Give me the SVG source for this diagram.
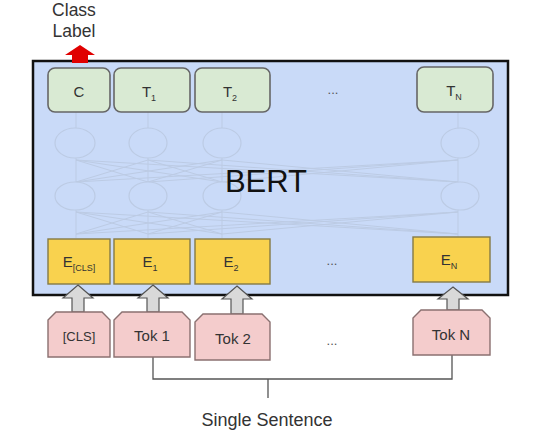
<svg xmlns="http://www.w3.org/2000/svg" width="535" height="436" viewBox="0 0 535 436">
<defs>
<style>
text{font-family:"Liberation Sans",Arial,sans-serif;fill:#333;}
.lbl{font-size:15px;text-anchor:middle;}
.sub{font-size:9px;}
.tbox{fill:#d9ead3;stroke:#666;stroke-width:1.6;}
.ebox{fill:#f9d24e;stroke:#857a45;stroke-width:1.4;}
.tok{fill:#f4cccc;stroke:#8a7070;stroke-width:1.4;}
.garrow{fill:#d9d9d9;stroke:#555;stroke-width:1.2;}
.net{stroke:#bccbe4;stroke-width:1;fill:none;}
.cell{fill:#c9daf8;stroke:#bccbe4;stroke-width:1.2;}
.dots{font-size:13px;text-anchor:middle;fill:#555;}
</style>
</defs>
<rect width="535" height="436" fill="#fff"/>
<g id="bert">
<rect x="33" y="61" width="475" height="234" fill="#c9daf8" stroke="#111" stroke-width="2.5"/>
<g id="network">
<line class="net" x1="76" y1="112" x2="76" y2="238"/>
<line class="net" x1="148" y1="112" x2="148" y2="238"/>
<line class="net" x1="222" y1="112" x2="222" y2="238"/>
<line class="net" x1="458" y1="112" x2="458" y2="238"/>
<path class="net" d="M76 160L148 182M76 160L222 182M76 160L458 182M148 160L76 182M148 160L222 182M148 160L458 182M222 160L76 182M222 160L148 182M222 160L458 182M458 160L76 182M458 160L148 182M458 160L222 182"/>
<path class="net" d="M76 212L148 234M76 212L222 234M76 212L458 234M148 212L76 234M148 212L222 234M148 212L458 234M222 212L76 234M222 212L148 234M222 212L458 234M458 212L76 234M458 212L148 234M458 212L222 234"/>
<ellipse class="cell" cx="75" cy="143" rx="20" ry="15"/>
<ellipse class="cell" cx="148" cy="143" rx="19" ry="15"/>
<ellipse class="cell" cx="222" cy="143" rx="19" ry="15"/>
<ellipse class="cell" cx="460" cy="143" rx="19" ry="15"/>
<ellipse class="cell" cx="75" cy="196" rx="20" ry="14"/>
<ellipse class="cell" cx="148" cy="196" rx="19" ry="14"/>
<ellipse class="cell" cx="222" cy="196" rx="19" ry="14"/>
<ellipse class="cell" cx="460" cy="196" rx="19" ry="14"/>
</g>
<text x="266" y="192" font-size="31" text-anchor="middle" style="fill:#111">BERT</text>
</g>
<g id="class-label">
<text x="74" y="16" font-size="17.5" text-anchor="middle">Class</text>
<text x="74" y="37" font-size="17.5" text-anchor="middle">Label</text>
<path d="M80 45L95 55L88 55L88 63L72 63L72 55L65 55Z" fill="#e00000"/>
</g>
<g id="node-C"><rect class="tbox" x="48" y="68" width="62" height="44" rx="7"/><text class="lbl" x="79" y="97">C</text></g>
<g id="node-T1"><rect class="tbox" x="114" y="68" width="76" height="44" rx="7"/><text class="lbl" x="149" y="97">T<tspan class="sub" dy="4">1</tspan></text></g>
<g id="node-T2"><rect class="tbox" x="195" y="68" width="75" height="44" rx="7"/><text class="lbl" x="230" y="97">T<tspan class="sub" dy="4">2</tspan></text></g>
<text class="dots" x="333" y="94">...</text>
<g id="node-TN"><rect class="tbox" x="417" y="67" width="76" height="45" rx="7"/><text class="lbl" x="454" y="96">T<tspan class="sub" dy="4">N</tspan></text></g>
<g id="node-ECLS"><rect class="ebox" x="48" y="239" width="62" height="45"/><text class="lbl" x="79" y="267">E<tspan class="sub" dy="4">[CLS]</tspan></text></g>
<g id="node-E1"><rect class="ebox" x="114" y="239" width="76" height="45"/><text class="lbl" x="150" y="267">E<tspan class="sub" dy="4">1</tspan></text></g>
<g id="node-E2"><rect class="ebox" x="195" y="239" width="75" height="45"/><text class="lbl" x="231" y="267">E<tspan class="sub" dy="4">2</tspan></text></g>
<text class="dots" x="332" y="265">...</text>
<g id="node-EN"><rect class="ebox" x="413" y="237" width="77" height="45"/><text class="lbl" x="449" y="265">E<tspan class="sub" dy="4">N</tspan></text></g>
<g id="connectors">
<path class="garrow" d="M78 285L93 298L84 298L84 312L72 312L72 298L63 298Z"/>
<path class="garrow" d="M153 285L168 298L159 298L159 312L147 312L147 298L138 298Z"/>
<path class="garrow" d="M237 286L252 299L243 299L243 314L231 314L231 299L222 299Z"/>
<path class="garrow" d="M453 287L468 299L459 299L459 310L447 310L447 299L438 299Z"/>
<path d="M153 357V379H452V355M268 379V398" fill="none" stroke="#555" stroke-width="1.3"/>
</g>
<g id="node-tokCLS"><path class="tok" d="M48 320L56 312H102L110 320V357H48Z"/><text x="79" y="341" font-size="13" text-anchor="middle">[CLS]</text></g>
<g id="node-tok1"><path class="tok" d="M114 320L122 312H182L190 320V357H114Z"/><text x="152" y="341" font-size="15" text-anchor="middle">Tok 1</text></g>
<g id="node-tok2"><path class="tok" d="M195 322L203 314H262L270 322V360H195Z"/><text x="233" y="344" font-size="15" text-anchor="middle">Tok 2</text></g>
<text class="dots" x="332" y="345">...</text>
<g id="node-tokN"><path class="tok" d="M413 318L421 310H482L490 318V355H413Z"/><text x="451" y="340" font-size="15" text-anchor="middle">Tok N</text></g>
<text x="267" y="426" font-size="18" text-anchor="middle">Single Sentence</text>
</svg>
